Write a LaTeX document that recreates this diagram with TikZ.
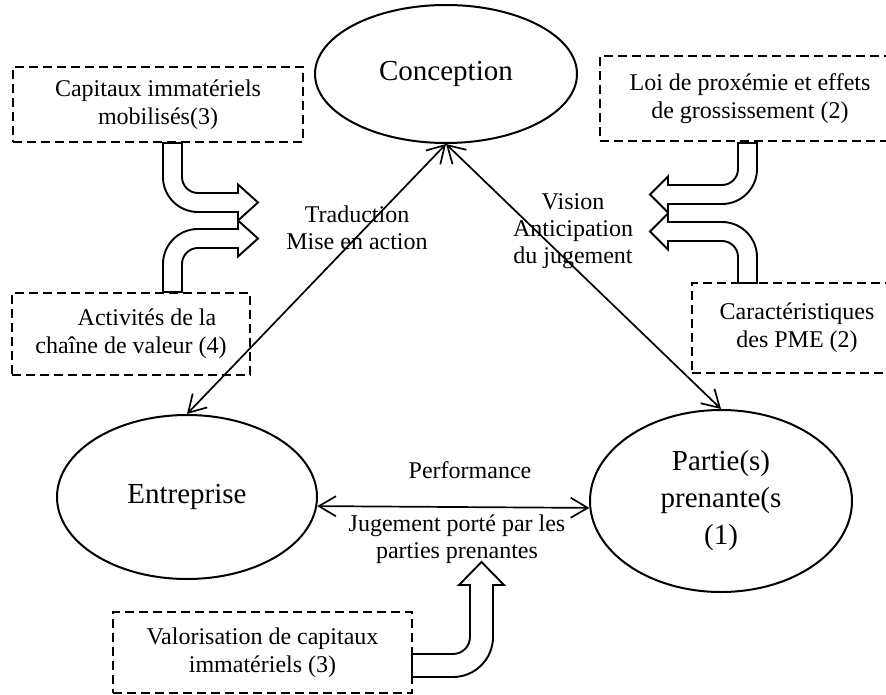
\documentclass[tikz,border=0pt]{standalone}
\usepackage{fontspec}
\setmainfont{Liberation Serif}
\usetikzlibrary{shapes.geometric,arrows.meta}

\begin{document}
\begin{tikzpicture}[x=1pt, y=1pt,
  pole/.style={ellipse, draw, line width=2pt, inner sep=0pt, align=center, font=\fontsize{29}{37}\selectfont},
  lien/.style={line width=1.7pt, {Straight Barb[length=17pt,width=20pt]}-{Straight Barb[length=17pt,width=20pt]}},
  fleche/.style={draw, line width=1.9pt, fill=white, line join=miter},
  txt/.style={inner sep=0pt, align=center, font=\fontsize{24}{27}\selectfont}]
\useasboundingbox (0,0) rectangle (886,-695);
\clip (0,0) rectangle (886,-695);

\node[pole, minimum width=262pt, minimum height=138pt](conc) at (446,-74) {Conception};
\node[pole, minimum width=260pt, minimum height=164pt](entr) at (187,-497) {Entreprise};
\node[pole, minimum width=262pt, minimum height=182pt](part) at (721,-501) {Partie(s)\\prenante(s\\(1)};

\begin{scope}[every node/.style={draw, dash pattern=on 9pt off 5pt, line width=1.7pt, inner sep=0pt, align=center, font=\fontsize{24}{28}\selectfont}]
\node[minimum width=290pt, minimum height=75pt](capi) at (158,-104.5) {Capitaux immatériels\\mobilisés(3)};
\node[minimum width=238pt, minimum height=82pt](acti) at (131,-334) {\hspace*{32pt}Activités de la\\chaîne de valeur (4)};
\node[minimum width=300pt, minimum height=85pt](loi) at (750,-98.5) {Loi de proxémie et effets\\de grossissement (2)};
\node[minimum width=210pt, minimum height=90pt](cara) at (797,-328) {Caractéristiques\\des PME (2)};
\node[minimum width=299pt, minimum height=81pt](valo) at (262.5,-652.5) {Valorisation de capitaux\\immatériels (3)};
\end{scope}

\node[txt](trad) at (357,-228) {Traduction\\Mise en action};
\node[txt](visi) at (573,-231) {Vision\\Anticipation\\du jugement};
\node[txt](perf) at (470,-470) {Performance};
\node[txt](juge) at (457,-539) {Jugement porté par les\\parties prenantes};

\draw[lien] (conc.south) -- (entr.north);
\draw[lien] (conc.south) -- (part.north);
\draw[lien] (entr.-4) -- (part.183);

% fleches creuses
\draw[fleche] (163,-143) -- (163,-177) arc[start angle=180, end angle=270, radius=35] -- (238,-212) -- (238,-220.5) -- (258,-202.5) -- (238,-184.5) -- (238,-193) -- (198,-193) arc[start angle=270, end angle=180, radius=16] -- (182,-143) -- cycle;
\draw[fleche] (163,-292) -- (163,-264) arc[start angle=180, end angle=90, radius=35] -- (238,-229) -- (238,-220.5) -- (258,-238.5) -- (238,-256.5) -- (238,-248) -- (198,-248) arc[start angle=90, end angle=180, radius=16] -- (182,-292) -- cycle;
\draw[fleche] (757,-143) -- (757,-169) arc[start angle=0, end angle=-90, radius=35] -- (668,-204) -- (668,-212.5) -- (650,-194.5) -- (668,-176.5) -- (668,-185) -- (722,-185) arc[start angle=-90, end angle=0, radius=16] -- (738,-143) -- cycle;
\draw[fleche] (757,-283) -- (757,-257) arc[start angle=0, end angle=90, radius=35] -- (668,-222) -- (668,-213.5) -- (650,-231.5) -- (668,-249.5) -- (668,-241) -- (722,-241) arc[start angle=90, end angle=0, radius=16] -- (738,-283) -- cycle;
\draw[fleche] (412,-677) -- (453,-677) arc[start angle=-90, end angle=0, radius=40] -- (493,-585) -- (504,-585) -- (481.5,-562) -- (459,-585) -- (470,-585) -- (470,-637) arc[start angle=0, end angle=-90, radius=17] -- (412,-654) -- cycle;
\end{tikzpicture}
\end{document}
